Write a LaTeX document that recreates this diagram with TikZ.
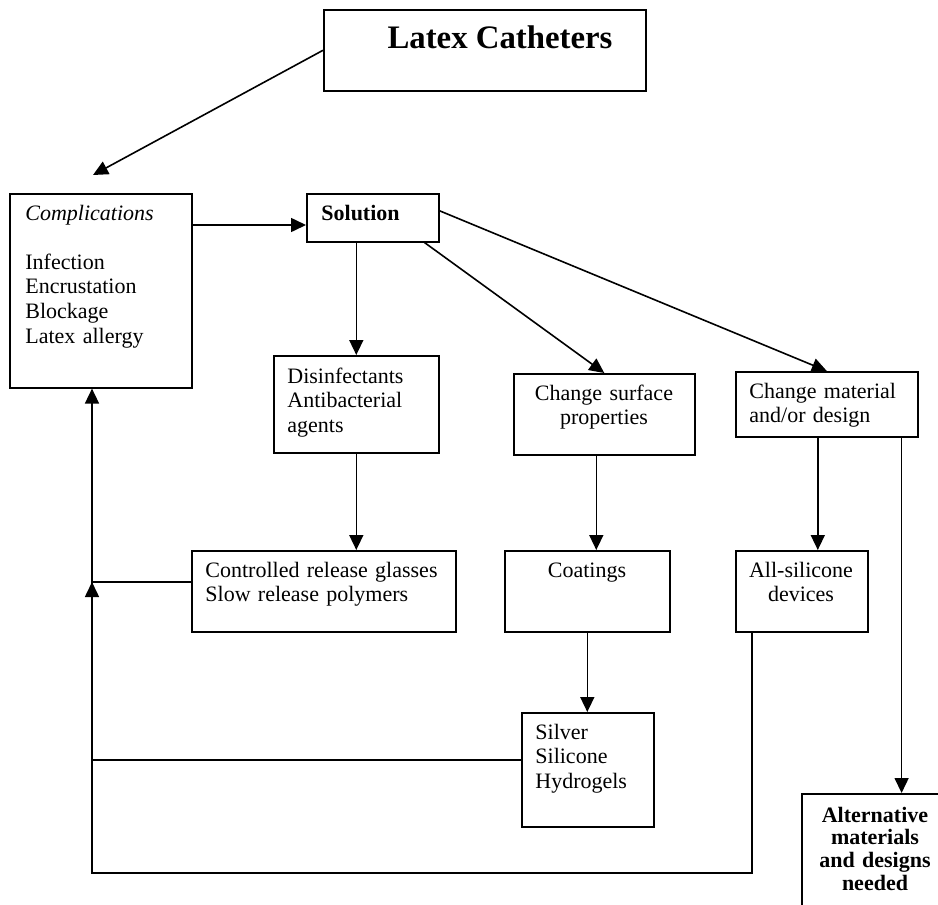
\documentclass[tikz,border=0pt]{standalone}
\usepackage{fontspec}
\setmainfont{Liberation Serif}
\usetikzlibrary{arrows.meta,calc}
\begin{document}
\begin{tikzpicture}[x=0.5pt,y=-0.5pt,
  box/.style={draw, line width=0.8pt, inner sep=0pt, anchor=north west},
  arr/.style={line width=0.8pt, -{Triangle[length=7.5pt,width=7pt]}},
  ln/.style={line width=0.8pt},
  txt/.style={inner sep=0pt, font=\fontsize{11}{12.3}\selectfont, align=left, text width=150pt, anchor=base west},
  txtc/.style={inner sep=0pt, font=\fontsize{11}{12.3}\selectfont, align=center, text width=100pt, anchor=base}
]
\clip (0,0) rectangle (938,905);
% boxes
\node[box, minimum width=161pt, minimum height=40.5pt] (title) at (323,9) {};
\node[anchor=base, inner sep=0pt, font=\fontsize{16.4}{19}\selectfont\bfseries] (titletxt) at (500,48) {Latex Catheters};

\node[box, minimum width=91pt, minimum height=97pt] (comp) at (9,193) {};
\node[txt] (comptxt) at (25,220) {\textit{Complications}\\[12.3pt]Infection\\Encrustation\\Blockage\\Latex allergy};

\node[box, minimum width=66pt, minimum height=24pt] (sol) at (306,193) {};
\node[txt] (soltxt) at (321,220) {\textbf{Solution}};

\node[box, minimum width=82.5pt, minimum height=48.5pt] (dis) at (273,355) {};
\node[txt] (distxt) at (287,383) {Disinfectants\\Antibacterial\\agents};

\node[box, minimum width=90.5pt, minimum height=40.5pt] (csp) at (513,373) {};
\node[txtc] (csptxt) at (604,400) {Change surface\\properties};

\node[box, minimum width=91pt, minimum height=32.5pt] (cmd) at (735,371) {};
\node[txt] (cmdtxt) at (749,398) {Change material\\and/or design};

\node[box, minimum width=132pt, minimum height=40.5pt] (crg) at (191,550) {};
\node[txt] (crgtxt) at (205,577) {Controlled release glasses\\Slow release polymers};

\node[box, minimum width=82.5pt, minimum height=40.5pt] (coat) at (504,550) {};
\node[txtc] (coattxt) at (587,577) {Coatings};

\node[box, minimum width=66pt, minimum height=40.5pt] (alls) at (735,550) {};
\node[txtc] (allstxt) at (801,577) {All-silicone\\devices};

\node[box, minimum width=66pt, minimum height=57pt] (silv) at (521,712) {};
\node[txt] (silvtxt) at (535,739) {Silver\\Silicone\\Hydrogels};

\node[box, minimum width=75pt, minimum height=70pt] (alt) at (801,793) {};
\node[txtc, font=\fontsize{11}{11.35}\selectfont\bfseries] (alttxt) at (875,822) {Alternative\\materials\\and designs\\needed};

% coordinates
\coordinate (ctip) at (93,175);
\coordinate (j0) at (92,873);
\coordinate (j1) at (92,582);
\coordinate (j2) at (92,760);
\coordinate (a1) at ([yshift=-16pt]comp.north east);
\coordinate (a2) at ([xshift=-4pt]csp.south);
\coordinate (a3) at ([xshift=-4.5pt]cmd.south);
\coordinate (a4) at ([xshift=-8.5pt]cmd.south east);
\coordinate (a5) at ([xshift=-25pt]alls.south);

% connectors
\draw[arr] (title.west) -- (ctip);
\draw[arr] (a1) -- (a1 -| sol.west);
\draw[arr] (sol.south -| dis.north) -- (dis.north);
\draw[arr] ([xshift=-7.5pt]sol.south east) -- (csp.north);
\draw[arr] ([yshift=3.5pt]sol.east) -- (cmd.north);
\draw[arr] (dis.south) -- (dis.south |- crg.north);
\draw[arr] (a2) -- (a2 |- coat.north);
\draw[arr] (coat.south) -- (coat.south |- silv.north);
\draw[arr] (a3) -- (a3 |- alls.north);
\draw[arr] (a4) -- (a4 |- alt.north);
\draw[arr] (a5) |- (j0) -- (j0 |- comp.south);
\draw[ln] (j1 -| crg.west) -- (j1);
\draw[arr] ([yshift=-10pt]j1) -- (j1);
\draw[ln] (j2 -| silv.west) -- (j2);
\end{tikzpicture}
\end{document}
